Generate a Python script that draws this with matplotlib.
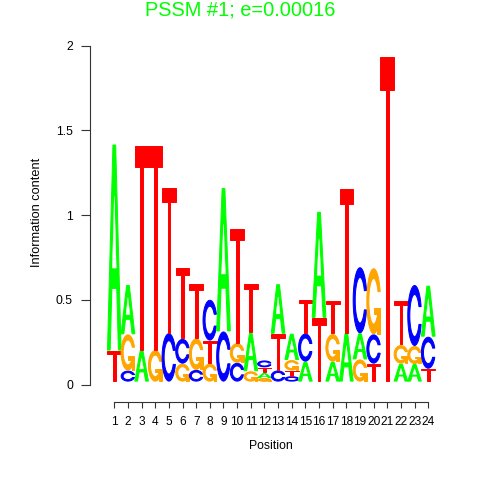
import numpy as np
import matplotlib.pyplot as plt
from matplotlib.patches import Polygon

plt.rcParams['font.family'] = ['Liberation Sans', 'DejaVu Sans']

# --- Motif data: letter heights (bits) per position ---
positions = list(range(1, 25))
height_A = [1.21, 0.285, 0.18, 0, 0, 0, 0, 0, 0.84, 0, 0.22, 0.025,
            0.287, 0.15, 0.112, 0.62, 0.112, 0.28, 0.148, 0, 0, 0.1, 0.098, 0.295]
height_C = [0, 0.059, 0, 0, 0.28, 0.14, 0.063, 0.235, 0.29, 0.105, 0, 0.035,
            0.06, 0.026, 0.16, 0, 0, 0, 0.384, 0.167, 0, 0, 0.354, 0.183]
height_G = [0, 0.208, 0, 0.18, 0, 0.1, 0.18, 0.1, 0, 0.11, 0.055, 0.014,
            0, 0.055, 0, 0, 0.157, 0, 0.125, 0.384, 0, 0.104, 0.1, 0]
height_T = [0.177, 0, 1.2, 1.2, 0.855, 0.417, 0.315, 0.13, 0, 0.67, 0.287, 0.027,
            0.21, 0.028, 0.197, 0.37, 0.193, 0.845, 0, 0.1, 1.91, 0.256, 0, 0.07]

title = "PSSM #1; e=0.00016"
colors = {'A': '#00ff00', 'C': '#0000ff', 'G': '#ffa500', 'T': '#ff0000'}
BASE = 0.02
GAP = 0.006


# --- Letter outlines on a unit square (seqLogo style polygons) ---
def ring_outline():
    a1 = np.linspace(0.3 + np.pi / 2, np.pi, 100)
    a2 = np.linspace(np.pi, 1.5 * np.pi, 100)
    xl = np.r_[0.5 + 0.5 * np.sin(a1), 0.5 + 0.5 * np.sin(a2)]
    yl = np.r_[0.5 + 0.5 * np.cos(a1), 0.5 + 0.5 * np.cos(a2)]
    x = np.r_[xl, xl[::-1]]
    y = np.r_[yl, 1 - yl[::-1]]
    ymax = (0.5 + 0.5 * np.cos(a1)).max()
    xi1 = 0.5 + 0.35 * np.sin(a1)
    yi1 = 0.5 + 0.35 * np.cos(a1)
    keep = yi1 <= ymax
    xi1, yi1 = xi1[keep], yi1[keep]
    yi1[0] = ymax
    xi = np.r_[xi1, 0.5 + 0.35 * np.sin(a2)]
    yi = np.r_[yi1, 0.5 + 0.35 * np.cos(a2)]
    x1 = np.r_[xi, xi[::-1]]
    y1 = np.r_[yi, 1 - yi[::-1]]
    return np.r_[x, x1[::-1]], np.r_[y, y1[::-1]]


def glyph(ch):
    if ch == 'A':
        outer = ([0, .4, .6, 1, .8, .68, .32, .2], [0, 1, 1, 0, 0, .3, .3, 0])
        hole = ([.36, .5, .64], [.4, .75, .4])
        return [(outer, colors['A']), (hole, 'white')]
    if ch == 'T':
        return [(([0, 1, 1, .6, .6, .4, .4, 0], [1, 1, .9, .9, 0, 0, .9, .9]), colors['T'])]
    x, y = ring_outline()
    parts = [((x, y), colors[ch])]
    if ch == 'G':
        r1 = 0.5 + 0.5 * np.sin(0.3 + np.pi / 2)
        h1 = 0.4
        parts.append((([r1, .5, .5, r1 - .2, r1 - .2, r1], [h1, h1, h1 - .1, h1 - .1, 0, 0]), colors['G']))
    return parts


fig = plt.figure(figsize=(4.8, 4.8), dpi=100)
ax = fig.add_axes([90.3 / 480, (480 - 401.7) / 480, (445 - 90.3) / 480, (401.7 - 45.5) / 480])

table = {'A': height_A, 'C': height_C, 'G': height_G, 'T': height_T}
for i, pos in enumerate(positions):
    col = sorted('ACGT', key=lambda c: table[c][i])
    y0 = BASE
    for ch in col:
        h = table[ch][i]
        if h <= 0:
            continue
        for (gx, gy), fc in glyph(ch):
            pts = np.column_stack([pos - 0.5 + np.asarray(gx), y0 + h * np.asarray(gy)])
            lw = 0.3 if fc == 'white' else 0.7
            ax.add_patch(Polygon(pts, closed=True, facecolor=fc, edgecolor=fc,
                                 linewidth=lw, clip_on=False))
        y0 += h + GAP

ax.set_xlim(1 - (114.3 - 90.3) / 13.65, 1 + (445 - 114.3) / 13.65)
ax.set_ylim(-(401.7 - 384.5) / 169.5, 2.0)

for s in ['top', 'right']:
    ax.spines[s].set_visible(False)
ax.spines['left'].set_bounds(0, 2)
ax.spines['bottom'].set_bounds(1, 24)
for s in ['left', 'bottom']:
    ax.spines[s].set_linewidth(0.8)
    ax.spines[s].set_color('#333333')

ax.set_xticks(positions)
ax.set_xticklabels([str(p) for p in positions])
ax.set_yticks([0, 0.5, 1, 1.5, 2])
ax.set_yticklabels(['0', '0.5', '1', '1.5', '2'])
ax.tick_params(axis='x', length=4.3, width=0.8, color='#333333', pad=6, labelsize=8.6)
ax.tick_params(axis='y', length=6.5, width=0.8, color='#333333', pad=6, labelsize=8.8)

fig.text(271 / 480, 1 - 445.7 / 480, 'Position', ha='center', va='center', fontsize=8.8)
fig.text(37 / 480, 1 - 212 / 480, 'Information content', ha='center', va='center',
         rotation=90, fontsize=9.2)
fig.text(0.5, 1 - 16 / 480, title, ha='center', va='baseline', fontsize=14.4, color='#00ff00')

fig.savefig('out.png', dpi=100)
